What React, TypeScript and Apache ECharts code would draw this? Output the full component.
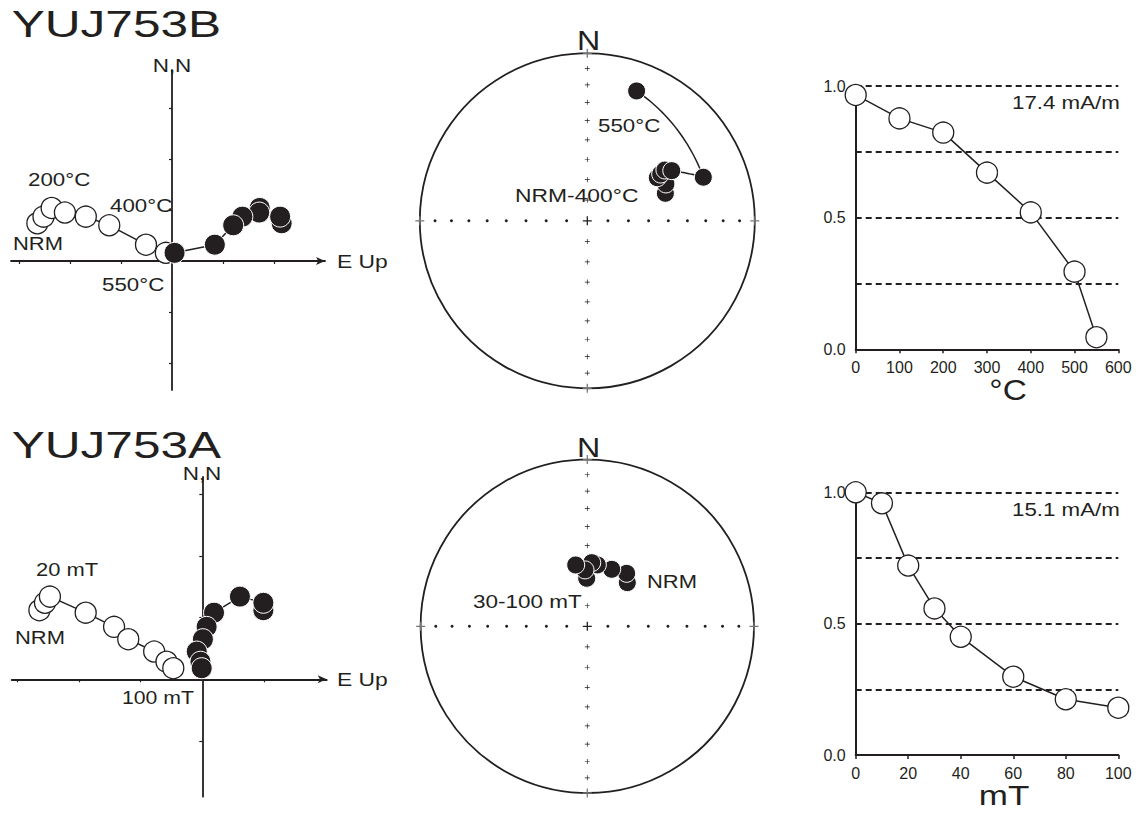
import React, { useEffect, useRef } from "react";
import * as echarts from "echarts";

// ---------- YUJ753B (thermal) ----------
const thTitle = "YUJ753B";
// Zijderveld: shared N component, E (horizontal proj.), Up (vertical proj.)
const thN = [0.74, 0.87, 1.04, 0.95, 0.87, 0.7, 0.32, 0.16];
const thE = [2.15, 2.12, 1.72, 1.71, 1.38, 1.2, 0.84, 0.05];
const thUp = [-2.64, -2.52, -2.36, -2.1, -1.69, -1.23, -0.51, -0.12];
// Stereonet directions
const thDec = [70.6, 64.9, 58.4, 57.5, 56.8, 59.3, 69.4, 20.8];
const thInc = [49.1, 47.0, 49.4, 46.9, 43.9, 41.0, 26.9, 18.2];
// Intensity decay
const thSteps = [0, 100, 200, 300, 400, 500, 550];
const thInt = [0.966, 0.877, 0.823, 0.671, 0.52, 0.295, 0.046];
const thNrm = "17.4 mA/m";

// ---------- YUJ753A (AF) ----------
const afTitle = "YUJ753A";
const afN = [1.12, 1.24, 1.34, 1.08, 0.85, 0.65, 0.45, 0.285, 0.18];
const afE = [0.99, 0.99, 0.61, 0.19, 0.07, 0.01, -0.09, -0.03, -0.01];
const afUp = [-2.64, -2.55, -2.47, -1.89, -1.43, -1.2, -0.78, -0.58, -0.47];
const afDec = [42.5, 36.6, 23.2, 9.3, 4.0, 359.3, 357.7, 349.3];
const afInc = [60.9, 57.5, 59.5, 59.4, 58.6, 66.5, 62.3, 59.3];
const afSteps = [0, 10, 20, 30, 40, 60, 80, 100];
const afInt = [1.0, 0.958, 0.721, 0.558, 0.45, 0.298, 0.212, 0.18];
const afNrm = "15.1 mA/m";

// Stereonet graticule ticks (inclination, degrees)
const stereoTickInc = [10, 20, 30, 40, 50, 60, 70, 80];
const thTempTicks = [0, 100, 200, 300, 400, 500, 600];
const afFieldTicks = [0, 20, 40, 60, 80, 100];

const FONT = "'Liberation Sans', Arial, Helvetica, sans-serif";
const INK = "#231f20";
const RAD = Math.PI / 180;
const PLUS = "path://M0,4.3H10V5.7H0ZM4.3,0H5.7V10H4.3Z";

const eqArea = (inc: number) => Math.sqrt(1 - Math.sin(Math.abs(inc) * RAD));
const toVec = (d: number, i: number) => [
  Math.cos(i * RAD) * Math.cos(d * RAD),
  Math.cos(i * RAD) * Math.sin(d * RAD),
  Math.sin(i * RAD),
];
function greatCirclePath(decs: number[], incs: number[], n = 30) {
  const out: number[][] = [];
  for (let k = 0; k < decs.length - 1; k++) {
    const a = toVec(decs[k], incs[k]);
    const b = toVec(decs[k + 1], incs[k + 1]);
    const dot = Math.min(1, Math.max(-1, a[0] * b[0] + a[1] * b[1] + a[2] * b[2]));
    const om = Math.acos(dot);
    for (let s = 0; s <= n; s++) {
      const t = s / n;
      let v = a;
      if (om > 1e-6) {
        const sa = Math.sin((1 - t) * om) / Math.sin(om);
        const sb = Math.sin(t * om) / Math.sin(om);
        v = [a[0] * sa + b[0] * sb, a[1] * sa + b[1] * sb, a[2] * sa + b[2] * sb];
      }
      const dec = (Math.atan2(v[1], v[0]) / RAD + 360) % 360;
      const inc = Math.asin(Math.max(-1, Math.min(1, v[2]))) / RAD;
      out.push([eqArea(inc), dec]);
    }
  }
  return out;
}

const OPEN = { color: "#ffffff", borderColor: INK, borderWidth: 1.3, opacity: 1 };
const CLOSED = { color: INK, borderColor: "#ffffff", borderWidth: 1, opacity: 1 };
const LINE = { color: INK, width: 1.5 };

function txt(text: string, x: number, y: number, size: number, sx = 1.25, align = "left") {
  return {
    type: "text",
    x,
    y,
    scaleX: sx,
    z: 100,
    silent: true,
    style: {
      text,
      fontSize: size,
      fontFamily: FONT,
      fill: INK,
      textAlign: align,
      align,
      textVerticalAlign: "middle",
      verticalAlign: "middle",
    },
  };
}

function zijX(gridIndex: number, min: number, max: number, ticks: number[]) {
  return {
    gridIndex,
    type: "value",
    min,
    max,
    axisLine: {
      onZero: true,
      symbol: ["none", "arrow"],
      symbolSize: [6, 9],
      lineStyle: { color: INK, width: 1.8 },
    },
    axisTick: { customValues: ticks, length: 3, lineStyle: { color: INK, width: 1.2 } },
    axisLabel: { show: false },
    splitLine: { show: false },
  };
}
function zijY(gridIndex: number, min: number, max: number, ticks: number[]) {
  return {
    gridIndex,
    type: "value",
    min,
    max,
    axisLine: { onZero: true, lineStyle: { color: INK, width: 1.8 } },
    axisTick: { customValues: ticks, length: 3, lineStyle: { color: INK, width: 1.2 } },
    axisLabel: { show: false },
    splitLine: { show: false },
  };
}
function intX(gridIndex: number, max: number, interval: number, labels: number[]) {
  return {
    gridIndex,
    type: "value",
    min: 0,
    max,
    interval,
    axisLine: { lineStyle: { color: INK, width: 2 } },
    axisTick: { length: 4, lineStyle: { color: INK, width: 1.5 } },
    axisLabel: { fontSize: 16, color: INK, fontFamily: FONT, margin: 10, customValues: labels },
    splitLine: { show: false },
  };
}
function intY(gridIndex: number) {
  return {
    gridIndex,
    type: "value",
    min: 0,
    max: 1,
    interval: 0.25,
    axisLine: { show: true, lineStyle: { color: INK, width: 2 } },
    axisTick: { show: false },
    axisLabel: {
      fontSize: 16,
      color: INK,
      fontFamily: FONT,
      margin: 10,
      formatter: (v: number) => (Math.abs(v * 2 - Math.round(v * 2)) < 1e-9 ? v.toFixed(1) : ""),
    },
    splitLine: { show: true, lineStyle: { color: INK, width: 2, type: [6, 4] } },
  };
}

function stereoSeries(polarIndex: number, decs: number[], incs: number[]) {
  const tick = (symbol: string, size: number, color: string, data: number[][]) => ({
    type: "scatter",
    coordinateSystem: "polar",
    polarIndex,
    symbol,
    symbolSize: size,
    itemStyle: { color, opacity: 1 },
    silent: true,
    z: 1,
    data,
  });
  return [
    tick(PLUS, 5, INK, [0, 180].flatMap((d) => stereoTickInc.map((i) => [eqArea(i), d]))),
    tick("circle", 3, INK, [90, 270].flatMap((d) => stereoTickInc.map((i) => [eqArea(i), d]))),
    tick(PLUS, 9, INK, [[0, 0]]),
    tick(PLUS, 9, "#777", [0, 90, 180, 270].map((d) => [1, d])),
    {
      type: "line",
      coordinateSystem: "polar",
      polarIndex,
      showSymbol: false,
      symbol: "none",
      lineStyle: LINE,
      silent: true,
      z: 2,
      data: greatCirclePath(decs, incs),
    },
    {
      type: "scatter",
      coordinateSystem: "polar",
      polarIndex,
      symbol: "circle",
      symbolSize: 18,
      itemStyle: CLOSED,
      silent: true,
      z: 3,
      data: decs.map((d, i) => [eqArea(incs[i]), d]),
    },
  ];
}

function zijSeries(axisIndex: number, n: number[], e: number[], up: number[]) {
  return [
    {
      type: "line",
      xAxisIndex: axisIndex,
      yAxisIndex: axisIndex,
      data: up.map((u, i) => [u, n[i]]),
      symbol: "circle",
      symbolSize: 21,
      itemStyle: OPEN,
      lineStyle: LINE,
      clip: false,
      silent: true,
      z: 3,
    },
    {
      type: "line",
      xAxisIndex: axisIndex,
      yAxisIndex: axisIndex,
      data: e.map((v, i) => [v, n[i]]),
      symbol: "circle",
      symbolSize: 21,
      itemStyle: CLOSED,
      lineStyle: LINE,
      clip: false,
      silent: true,
      z: 4,
    },
  ];
}

function intSeries(axisIndex: number, steps: number[], vals: number[]) {
  return {
    type: "line",
    xAxisIndex: axisIndex,
    yAxisIndex: axisIndex,
    data: steps.map((s, i) => [s, vals[i]]),
    symbol: "circle",
    symbolSize: 21,
    itemStyle: OPEN,
    lineStyle: LINE,
    clip: false,
    silent: true,
    z: 3,
  };
}

function buildOption() {
  // top Zijderveld: origin (172,261), 51 px/unit ; bottom: origin (202.3,679.3), 61.7 px/unit
  return {
    animation: false,
    backgroundColor: "#ffffff",
    textStyle: { fontFamily: FONT },
    grid: [
      { left: 11, top: 70, width: 314, height: 320 },
      { left: 11.7, top: 477, width: 315, height: 319.7 },
      { left: 855.7, top: 86, width: 262.6, height: 263.3 },
      { left: 855.7, top: 492.3, width: 262.6, height: 262.7 },
    ],
    xAxis: [
      zijX(0, -161 / 51, 153 / 51, [-3, -2, -1, 1, 2]),
      zijX(1, -190.6 / 61.7, 124.4 / 61.7, [-3, -2, -1, 1]),
      intX(2, 600, 100, thTempTicks),
      intX(3, 100, 20, afFieldTicks),
    ],
    yAxis: [
      zijY(0, -129 / 51, 191 / 51, [-2, -1, 1, 2, 3]),
      zijY(1, -117.4 / 61.7, 202.3 / 61.7, [-1, 1, 2, 3]),
      intY(2),
      intY(3),
    ],
    polar: [
      { center: [587.3, 220.8], radius: 167.5 },
      { center: [587.3, 626.3], radius: 166.7 },
    ],
    angleAxis: [0, 1].map((p) => ({
      polarIndex: p,
      type: "value",
      min: 0,
      max: 360,
      startAngle: 90,
      clockwise: true,
      axisLine: { lineStyle: { color: INK, width: 1.8 } },
      axisTick: { show: false },
      axisLabel: { show: false },
      splitLine: { show: false },
      splitArea: { show: false },
    })),
    radiusAxis: [0, 1].map((p) => ({
      polarIndex: p,
      type: "value",
      min: 0,
      max: 1,
      axisLine: { show: false },
      axisTick: { show: false },
      axisLabel: { show: false },
      splitLine: { show: false },
    })),
    series: [
      ...zijSeries(0, thN, thE, thUp),
      ...zijSeries(1, afN, afE, afUp),
      intSeries(2, thSteps, thInt),
      intSeries(3, afSteps, afInt),
      ...stereoSeries(0, thDec, thInc),
      ...stereoSeries(1, afDec, afInc),
    ],
    graphic: [
      txt(thTitle, 11.7, 23.5, 37, 1.34),
      txt(afTitle, 11.7, 445, 37, 1.34),
      txt("N,N", 172, 66, 18, 1.25, "center"),
      txt("N,N", 202, 474, 18, 1.25, "center"),
      txt("E Up", 337, 261, 18, 1.27),
      txt("E Up", 337, 679, 18, 1.27),
      txt("200°C", 28, 180, 18, 1.24),
      txt("400°C", 110, 206, 18, 1.24),
      txt("NRM", 13, 244, 18, 1.22),
      txt("550°C", 102, 285, 18, 1.24),
      txt("20 mT", 36, 570, 18, 1.22),
      txt("NRM", 15, 638, 18, 1.22),
      txt("100 mT", 122, 698, 18, 1.18),
      txt("N", 588.5, 40, 28, 1.15, "center"),
      txt("N", 588.5, 447, 28, 1.15, "center"),
      txt("550°C", 598, 126, 18, 1.24),
      txt("NRM-400°C", 515, 195, 18, 1.27),
      txt("NRM", 647, 582, 18, 1.22),
      txt("30-100 mT", 473, 602, 18, 1.25),
      txt(thNrm, 1012, 103, 18, 1.24),
      txt(afNrm, 1012, 510, 18, 1.24),
      txt("°C", 1008, 390, 29, 1.15, "center"),
      txt("mT", 1004, 795, 28, 1.25, "center"),
    ],
  };
}

export default function App() {
  const ref = useRef<HTMLDivElement>(null);
  useEffect(() => {
    document.body.style.margin = "0";
    const chart = echarts.init(ref.current as HTMLDivElement, null, { renderer: "svg" });
    chart.setOption(buildOption() as any);
    return () => {
      chart.dispose();
    };
  }, []);
  return <div ref={ref} style={{ width: 1138, height: 813, background: "#fff" }} />;
}
